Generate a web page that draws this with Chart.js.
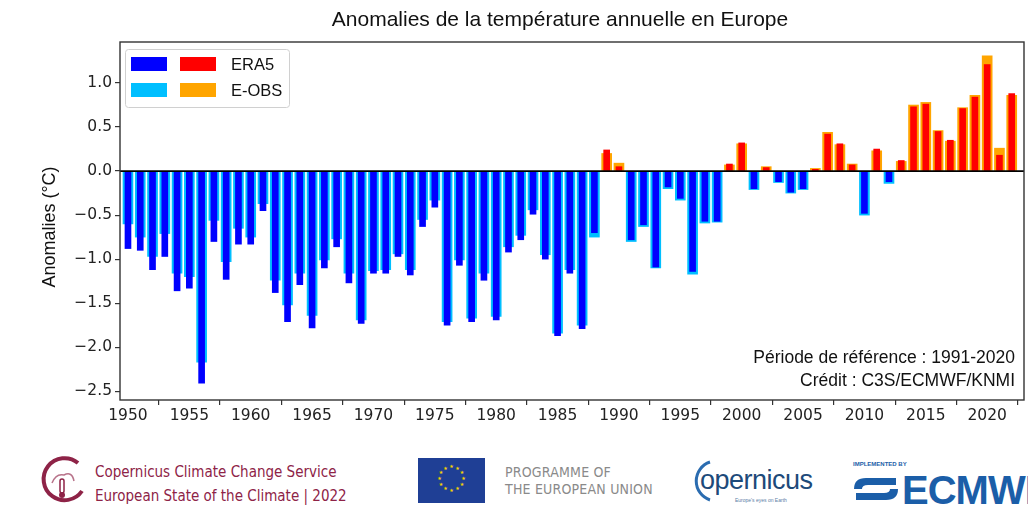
<!DOCTYPE html>
<html>
<head>
<meta charset="utf-8">
<script src="https://cdn.jsdelivr.net/npm/chart.js@4"></script>
<style>
	html, body { margin:0; padding:0; background:#fff; }
	#wrap { position:relative; width:1028px; height:510px; overflow:hidden; background:#fff; }
	#chartBox { position:absolute; left:0; top:0; width:1028px; height:430px; }
	.ft { position:absolute; white-space:nowrap; }
	.c3s { left:95px; top:460px; font-family:"DejaVu Sans Condensed","DejaVu Sans",sans-serif; font-size:15px; line-height:24px; color:#8e2347; }
	.eu { left:505px; top:464px; font-family:"DejaVu Sans Condensed","DejaVu Sans",sans-serif; font-size:14px; line-height:17px; color:#8a8a8a; letter-spacing:0.2px; }
	.cop { left:700px; top:465px; font-family:"Liberation Sans",Arial,sans-serif; font-size:27px; color:#1d4a7a; letter-spacing:-0.5px; }
	.copsub { left:735px; top:497px; font-family:"Liberation Sans",Arial,sans-serif; font-size:5px; color:#5a7ea6; }
	.impl { left:853px; top:461px; font-family:"Liberation Sans",Arial,sans-serif; font-size:6px; color:#1b5ea8; font-weight:bold; }
	.ecmwf { left:902px; top:468px; font-family:"Liberation Sans",Arial,sans-serif; font-size:40px; font-weight:bold; color:#1b5ea8; letter-spacing:-1px; }
</style>
</head>
<body>
<div id="wrap">
	<div id="chartBox"><canvas id="anomChart"></canvas></div>

	<svg class="ft" style="left:38px;top:453px" width="50" height="56" viewBox="0 0 50 56">
		<path d="M40 10 A21 21 0 1 0 44 38" fill="none" stroke="#8e2347" stroke-width="4"/>
		<path d="M14 30 Q18 20 26 22 Q34 18 36 28" fill="none" stroke="#b8738a" stroke-width="1.5"/>
		<rect x="22" y="26" width="4" height="14" rx="2" fill="none" stroke="#8e2347" stroke-width="1.5"/>
		<circle cx="24" cy="42" r="3" fill="#8e2347"/>
	</svg>
	<div class="ft c3s">Copernicus Climate Change Service<br>European State of the Climate | 2022</div>

	<svg class="ft" style="left:418px;top:458px" width="67" height="45" viewBox="0 0 67 45">
		<rect width="67" height="45" fill="#1f3f95"/>
		<g fill="#f5d400" font-family="DejaVu Sans" font-size="5" text-anchor="middle">
			<text x="33.5" y="10">★</text><text x="39.5" y="11.6">★</text><text x="43.9" y="16">★</text>
			<text x="45.5" y="22">★</text><text x="43.9" y="28">★</text><text x="39.5" y="32.4">★</text>
			<text x="33.5" y="34">★</text><text x="27.5" y="32.4">★</text><text x="23.1" y="28">★</text>
			<text x="21.5" y="22">★</text><text x="23.1" y="16">★</text><text x="27.5" y="11.6">★</text>
		</g>
	</svg>
	<div class="ft eu">PROGRAMME OF<br>THE EUROPEAN UNION</div>

	<svg class="ft" style="left:684px;top:458px" width="30" height="46" viewBox="0 0 30 46">
		<path d="M26 4 A20 20 0 0 0 26 42" fill="none" stroke="#2b6cb0" stroke-width="3"/>
	</svg>
	<div class="ft cop">opernicus</div>
	<div class="ft copsub">Europe's eyes on Earth</div>

	<div class="ft impl">IMPLEMENTED BY</div>
	<svg class="ft" style="left:850px;top:474px" width="52" height="30" viewBox="0 0 52 30">
		<path d="M4 15 Q4 4 16 4 L46 4 L46 11 L18 11 Q12 11 12 15 Z" fill="#1b5ea8"/>
		<path d="M48 15 Q48 26 36 26 L6 26 L6 19 L34 19 Q40 19 40 15 Z" fill="#1b5ea8"/>
	</svg>
	<div class="ft ecmwf">ECMWF</div>
</div>

<script>
	// ---- data ----
	const years = [];
	for (let y = 1950; y <= 2022; y++) years.push(y);

	const era5 = [
		-0.88, -0.90, -1.12, -0.97, -1.36, -1.33, -2.41, -0.80, -1.23, -0.83,
		-0.83, -0.45, -1.38, -1.71, -1.29, -1.78, -1.10, -0.86, -1.27, -1.73,
		-1.16, -1.16, -0.97, -1.18, -0.63, -0.41, -1.75, -1.07, -1.71, -1.24,
		-1.69, -0.92, -0.78, -0.49, -1.00, -1.87, -1.16, -1.79, -0.70, 0.24,
		0.05, -0.78, -0.61, -1.09, -0.18, -0.31, -1.14, -0.57, -0.57, 0.08,
		0.32, -0.20, 0.04, -0.12, -0.24, -0.20, 0.02, 0.42, 0.31, 0.07,
		-0.48, 0.25, -0.12, 0.12, 0.73, 0.76, 0.45, 0.35, 0.71, 0.84,
		1.21, 0.18, 0.88
	];

	const eobs = [
		-0.60, -0.75, -0.97, -0.71, -1.16, -1.20, -2.17, -0.56, -1.03, -0.65,
		-0.75, -0.37, -1.24, -1.52, -1.16, -1.64, -1.01, -0.77, -1.16, -1.69,
		-1.13, -1.12, -0.94, -1.12, -0.55, -0.33, -1.71, -1.01, -1.67, -1.16,
		-1.65, -0.86, -0.73, -0.44, -0.95, -1.84, -1.12, -1.75, -0.75, 0.20,
		0.09, -0.80, -0.63, -1.10, -0.20, -0.33, -1.17, -0.59, -0.58, 0.07,
		0.31, -0.21, 0.05, -0.13, -0.25, -0.21, 0.03, 0.44, 0.30, 0.08,
		-0.50, 0.23, -0.14, 0.11, 0.75, 0.78, 0.46, 0.34, 0.72, 0.86,
		1.31, 0.26, 0.86
	];

	const xTicks = [1950, 1955, 1960, 1965, 1970, 1975, 1980, 1985, 1990, 1995, 2000, 2005, 2010, 2015, 2020];
	const yTicks = [1.0, 0.5, 0.0, -0.5, -1.0, -1.5, -2.0, -2.5];

	const titleText = 'Anomalies de la température annuelle en Europe';
	const yLabel = 'Anomalies (°C)';
	const notes = ['Période de référence : 1991-2020', 'Crédit : C3S/ECMWF/KNMI'];

	const COL = { era5Neg:'#0000ff', era5Pos:'#ff0000', eobsNeg:'#00bfff', eobsPos:'#ffa500' };

	function toPoints(vals){
		return vals.map((v, i) => ({ x: years[i], y: v }));
	}

	function fmtTick(v){
		return v.toFixed(1).replace('-', '\u2212');
	}

	// title, frame, zero line, legend and notes
	const decor = {
		id: 'decor',
		afterDatasetsDraw(chart){
			const {ctx, chartArea: a, scales} = chart;
			const y0 = scales.y.getPixelForValue(0);
			ctx.save();
			ctx.strokeStyle = '#000';
			ctx.lineWidth = 1.6;
			ctx.beginPath();
			ctx.moveTo(a.left, y0);
			ctx.lineTo(a.right, y0);
			ctx.stroke();

			// frame
			ctx.strokeStyle = '#333';
			ctx.lineWidth = 1.4;
			ctx.strokeRect(a.left, a.top, a.right - a.left, a.bottom - a.top);

			// title
			ctx.fillStyle = '#111';
			ctx.font = '21px "Liberation Sans", Arial, sans-serif';
			ctx.textAlign = 'center';
			ctx.textBaseline = 'middle';
			ctx.fillText(titleText, 560, 20);

			// y label
			ctx.save();
			ctx.translate(50, (a.top + a.bottom) / 2 + 6);
			ctx.rotate(-Math.PI / 2);
			ctx.font = '18px "Liberation Sans", Arial, sans-serif';
			ctx.fillText(yLabel, 0, 0);
			ctx.restore();

			// legend
			ctx.fillStyle = 'rgba(255,255,255,0.9)';
			ctx.strokeStyle = '#d0d0d0';
			ctx.lineWidth = 1;
			ctx.beginPath();
			ctx.roundRect(125.5, 49.5, 164, 58, 3);
			ctx.fill();
			ctx.stroke();
			const rows = [
				{ a: COL.era5Neg, b: COL.era5Pos, t: 'ERA5', y: 64 },
				{ a: COL.eobsNeg, b: COL.eobsPos, t: 'E-OBS', y: 90 }
			];
			ctx.font = '16.5px "Liberation Sans", Arial, sans-serif';
			ctx.textAlign = 'left';
			rows.forEach(r => {
				ctx.fillStyle = r.a;
				ctx.fillRect(131, r.y - 7, 36, 14);
				ctx.fillStyle = r.b;
				ctx.fillRect(180, r.y - 7, 36, 14);
				ctx.fillStyle = '#111';
				ctx.fillText(r.t, 231, r.y + 1);
			});

			// notes bottom right
			ctx.textAlign = 'right';
			ctx.font = '17.5px "Liberation Sans", Arial, sans-serif';
			ctx.fillText(notes[0], 1015, 358);
			ctx.fillText(notes[1], 1015, 381);
			ctx.restore();
		}
	};

	window.addEventListener('DOMContentLoaded', function(){
		const ctx = document.getElementById('anomChart').getContext('2d');
		const tickFont = { family: '"DejaVu Sans", sans-serif', size: 15.5 };

		new Chart(ctx, {
			type: 'bar',
			data: {
				datasets: [
					{
						label: 'ERA5',
						data: toPoints(era5),
						backgroundColor: c => (c.raw && c.raw.y >= 0) ? COL.era5Pos : COL.era5Neg,
						barThickness: 6,
						grouped: false
					},
					{
						label: 'E-OBS',
						data: toPoints(eobs),
						backgroundColor: c => (c.raw && c.raw.y >= 0) ? COL.eobsPos : COL.eobsNeg,
						barThickness: 10,
						grouped: false
					}
				]
			},
			options: {
				responsive: true,
				maintainAspectRatio: false,
				animation: false,
				layout: { padding: { top: 42, right: 4, left: 0, bottom: 0 } },
				plugins: { legend: { display: false }, tooltip: { enabled: false } },
				scales: {
					x: {
						type: 'linear',
						min: 1949.35,
						max: 2023.0,
						offset: false,
						border: { display: false },
						grid: { drawOnChartArea: false, drawTicks: true, tickLength: 5, color: '#333', lineWidth: 1.2 },
						ticks: { font: tickFont, color: '#222', padding: 2, maxRotation: 0, autoSkip: false, callback: v => String(v) },
						afterBuildTicks: s => { s.ticks = xTicks.map(v => ({ value: v })); },
						afterFit: s => { s.height = 30; }
					},
					y: {
						min: -2.6,
						max: 1.466,
						border: { display: false },
						grid: { drawOnChartArea: false, drawTicks: true, tickLength: 5, color: '#333', lineWidth: 1.2 },
						ticks: { font: tickFont, color: '#222', padding: 3, autoSkip: false, callback: v => fmtTick(v) },
						afterBuildTicks: s => { s.ticks = yTicks.map(v => ({ value: v })); },
						afterFit: s => { s.width = 120; }
					}
				}
			},
			plugins: [decor]
		});
	});
</script>
</body>
</html>
